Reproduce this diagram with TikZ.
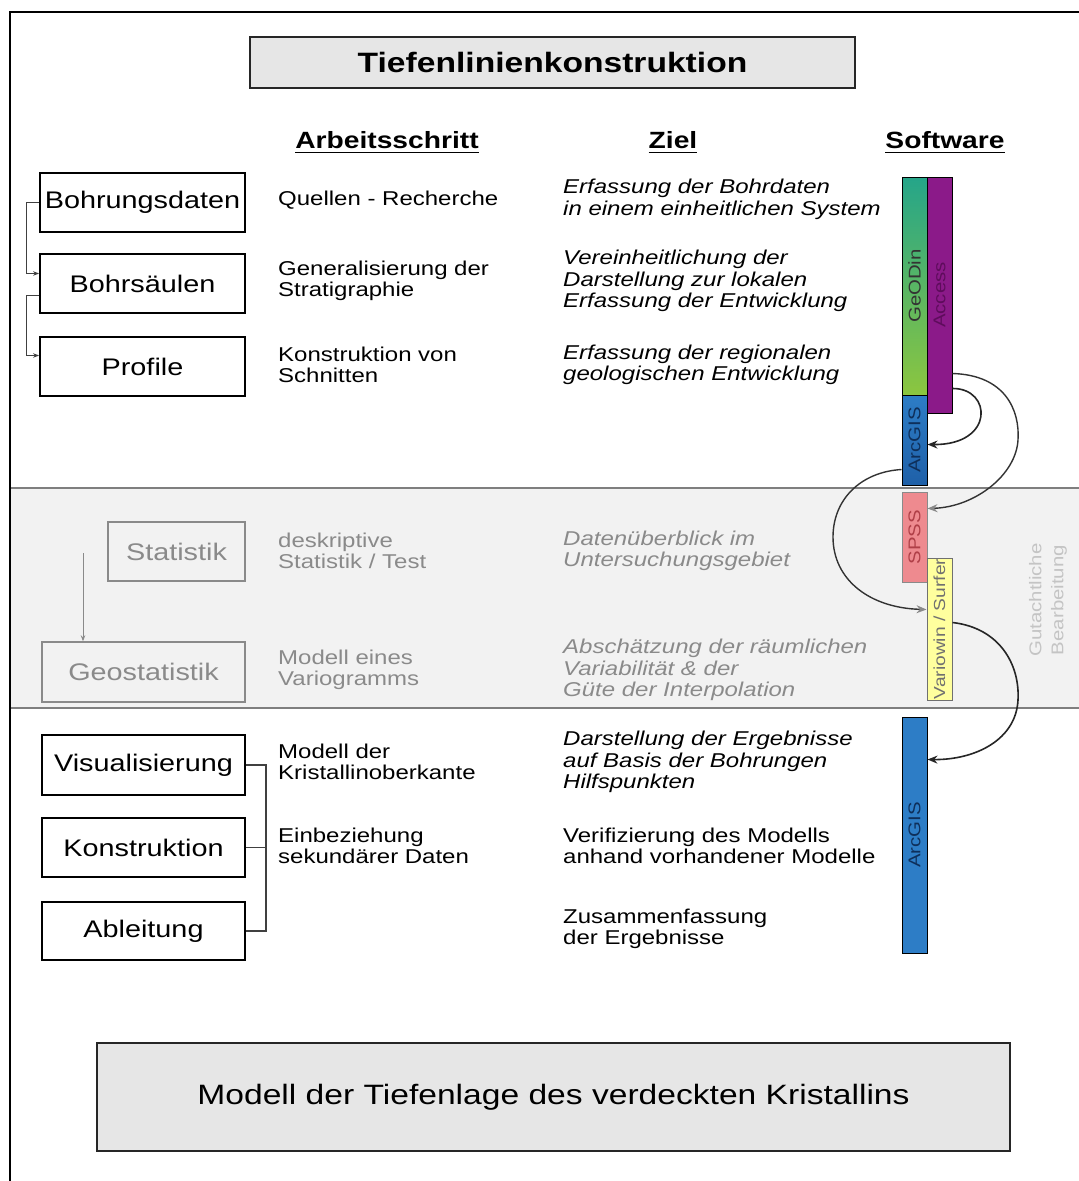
\documentclass[tikz,border=0pt]{standalone}
\usepackage{fontspec}
\setmainfont{Liberation Sans}[FakeStretch=1.2]
\usetikzlibrary{arrows.meta,calc}
\definecolor{bandfill}{HTML}{F2F2F2}
\definecolor{bandline}{HTML}{7F7F7F}
\definecolor{graytext}{HTML}{8A8A8A}
\definecolor{lightgraytext}{HTML}{C4C4C4}
\definecolor{titlefill}{HTML}{E6E6E6}
\definecolor{geotop}{HTML}{25A589}
\definecolor{geobot}{HTML}{8CC63F}
\definecolor{accfill}{HTML}{8B1A89}
\definecolor{acctext}{HTML}{5E0C5C}
\definecolor{arcfill}{HTML}{2D7DC6}
\definecolor{arcdark}{HTML}{1F60A8}
\definecolor{arctext}{HTML}{0E2F5A}
\definecolor{spssfill}{HTML}{EE8A8F}
\definecolor{spsstext}{HTML}{B04048}
\definecolor{variofill}{HTML}{FFFF9E}
\definecolor{variotext}{HTML}{707070}
\begin{document}
\begin{tikzpicture}[x=1pt,y=-1pt,
  titlebox/.style={draw=black!85, line width=1.8pt, fill=titlefill, inner sep=0pt},
  stepbox/.style={draw=black, line width=1.8pt, fill=white, minimum width=205pt, minimum height=59pt, inner sep=0pt, font=\fontsize{24}{28}\selectfont},
  graybox/.style={stepbox, fill=none, draw=graytext, line width=1.4pt, text=graytext},
  bodytext/.style={anchor=west, align=left, inner sep=0pt, font=\fontsize{20}{21.5}\selectfont},
  zieltext/.style={bodytext, font=\fontsize{20}{21.5}\selectfont\itshape},
  header/.style={anchor=base, inner sep=0pt, font=\fontsize{23.5}{26}\selectfont\bfseries},
  bar/.style={draw=black, line width=1pt, minimum width=25pt, inner sep=0pt, font=\fontsize{17}{17}\selectfont},
  conn/.style={draw=black!75, line width=1pt},
  connarrow/.style={conn, -{Stealth[length=6pt,width=4.5pt]}},
  curve/.style={draw=black!85, line width=1.6pt, -{Stealth[length=10pt,width=8pt]}},
  graycurve/.style={draw=black!80, line width=1.4pt, -{Stealth[length=10pt,width=8pt,color=graytext]}}
]
\useasboundingbox (0,0) rectangle (1079,1181);
\fill[white] (0,0) rectangle (1079,1181);
% band
\fill[bandfill] (10,488) rectangle (1079,708);
\draw[bandline, line width=1.2pt] (10,488) -- (1079,488) (10,708) -- (1079,708);
% frame
\draw[line width=2pt] (10,1181) -- (10,12) -- (1079,12);

% title
\node[titlebox, minimum width=605pt, minimum height=51pt, font=\fontsize{28}{30}\selectfont\bfseries] (title) at (552.5,62.5) {Tiefenlinienkonstruktion};

% headers
\node[header] (hA) at (387,148) {Arbeitsschritt};
\node[header] (hZ) at (673,148) {Ziel};
\node[header] (hS) at (945,148) {Software};
\foreach \h in {hA,hZ,hS}{
  \draw[line width=1.8pt] ([yshift=-4.5pt]\h.base west) -- ([yshift=-4.5pt]\h.base east);
}

% left boxes
\node[stepbox] (bd) at (142.5,202.5) {Bohrungsdaten};
\node[stepbox] (bs) at (142.5,283.5) {Bohrsäulen};
\node[stepbox] (pr) at (142.5,366.5) {Profile};
\node[graybox, minimum width=137pt] (stat) at (176.5,551.5) {Statistik};
\node[graybox, minimum width=203pt, minimum height=60pt] (gstat) at (143.5,672) {Geostatistik};
\node[stepbox, minimum width=203pt, minimum height=60pt] (vis) at (143.5,765) {Visualisierung};
\node[stepbox, minimum width=203pt] (kon) at (143.5,847.5) {Konstruktion};
\node[stepbox, minimum width=203pt, minimum height=58pt] (abl) at (143.5,931) {Ableitung};

% left connectors
\draw[connarrow] (bd.west) -- ++(-13,0) |- ($(bs.west)+(0,-10)$);
\draw[connarrow] ($(bs.west)+(0,12)$) -- ++(-13,0) |- ($(pr.west)+(0,-11)$);
\coordinate (sa) at (83,553);
\draw[connarrow, draw=graytext, line width=0.9pt] (sa) -- (sa |- gstat.north);
\draw[conn, line width=1.2pt] (vis.east) -- ++(20,0) |- (abl.east);
\draw[conn, line width=1.2pt] (kon.east) -- ++(20,0);

% Arbeitsschritt texts
\node[bodytext] (a1) at (278,200) {Quellen - Recherche};
\node[bodytext] (a2) at (278,281) {Generalisierung der\\Stratigraphie};
\node[bodytext] (a3) at (278,365) {Konstruktion von\\Schnitten};
\node[bodytext, text=graytext] (a4) at (278,551) {deskriptive\\Statistik / Test};
\node[bodytext, text=graytext] (a5) at (278,670) {Modell eines\\Variogramms};
\node[bodytext] (a6) at (278,762) {Modell der\\Kristallinoberkante};
\node[bodytext] (a7) at (278,846) {Einbeziehung\\sekundärer Daten};

% Ziel texts
\node[zieltext] (z1) at (563,199.5) {Erfassung der Bohrdaten\\in einem einheitlichen System};
\node[zieltext] (z2) at (563,281) {Vereinheitlichung der\\Darstellung zur lokalen\\Erfassung der Entwicklung};
\node[zieltext] (z3) at (563,365) {Erfassung der regionalen\\geologischen Entwicklung};
\node[zieltext, text=graytext] (z4) at (563,551) {Datenüberblick im\\Untersuchungsgebiet};
\node[zieltext, text=graytext] (z5) at (563,670) {Abschätzung der räumlichen\\Variabilität \& der\\Güte der Interpolation};
\node[zieltext] (z6) at (563,762) {Darstellung der Ergebnisse\\auf Basis der Bohrungen\\Hilfspunkten};
\node[bodytext] (z7) at (563,846) {Verifizierung des Modells\\anhand vorhandener Modelle};
\node[bodytext] (z8) at (563,929) {Zusammenfassung\\der Ergebnisse};

% software bars
\node[bar, minimum height=218pt, top color=geotop, bottom color=geobot, text=black!80] (geodin) at (914.5,286) {\rotatebox{90}{GeODin}};
\node[bar, minimum height=236pt, fill=accfill, text=acctext] (acc) at (939.5,295) {\rotatebox{90}{Access}};
\node[bar, minimum height=90pt, top color=arcfill, bottom color=arcdark, text=arctext] (arc1) at (914.5,440) {\rotatebox{90}{ArcGIS}};
\node[bar, minimum height=90pt, fill=spssfill, draw=graytext, text=spsstext] (spss) at (914.5,537) {\rotatebox{90}{SPSS}};
\node[bar, minimum height=142pt, fill=variofill, draw=variotext, text=variotext, font=\fontsize{16}{16}\selectfont] (vario) at (939.5,629) {\rotatebox{90}{Variowin / Surfer}};
\node[bar, minimum height=236pt, fill=arcfill, text=arctext] (arc2) at (914.5,835) {\rotatebox{90}{ArcGIS}};

\node[rotate=90, align=center, text=lightgraytext, font=\fontsize{17}{22}\selectfont] (gut) at (1048,600) {Gutachtliche\\Bearbeitung};

% curves
\draw[curve] ($(acc.south east)+(0,-25)$) .. controls (992,388) and (995,445) .. ($(arc1.north east)+(0,50)$);
\draw[graycurve] ($(acc.south east)+(0,-40)$) .. controls (1005,375) and (1020,410) .. (1018,440) .. controls (1016,475) and (975,507) .. ($(spss.north east)+(0,17)$);
\draw[graycurve] ($(arc1.north west)+(0,75)$) .. controls (860,472) and (833,500) .. (833,537) .. controls (833,580) and (870,608) .. ($(vario.north west)+(0,52)$);
\draw[curve] ($(vario.north east)+(0,65)$) .. controls (1000,628) and (1020,665) .. (1018,700) .. controls (1016,740) and (975,760) .. ($(arc2.north east)+(0,43)$);

% bottom box
\node[titlebox, minimum width=913pt, minimum height=108pt, font=\fontsize{28}{30}\selectfont] (result) at (553.5,1097) {Modell der Tiefenlage des verdeckten Kristallins};
\end{tikzpicture}
\end{document}
